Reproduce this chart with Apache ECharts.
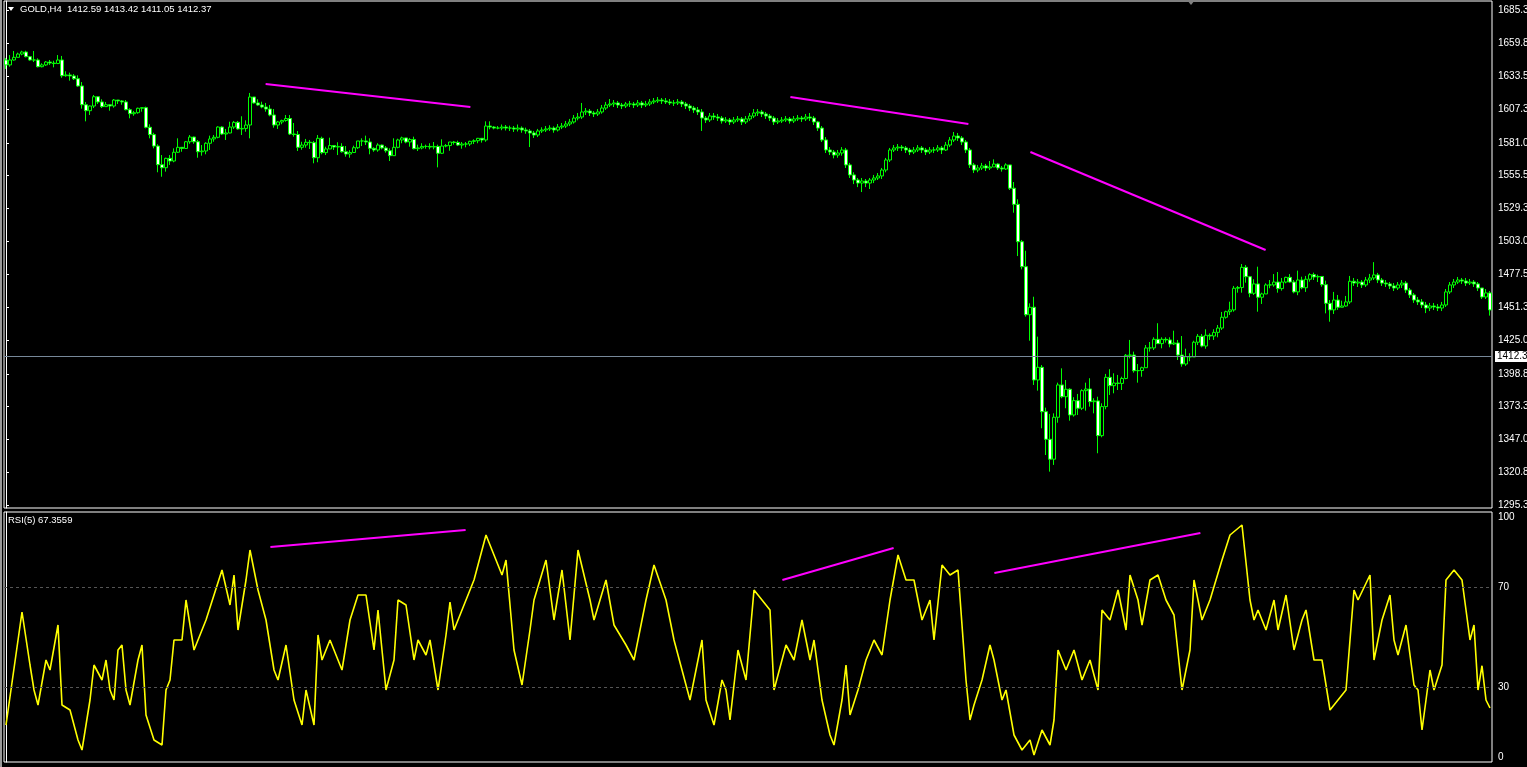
<!DOCTYPE html>
<html><head><meta charset="utf-8">
<script src="https://cdn.jsdelivr.net/npm/echarts@6/dist/echarts.min.js"></script>
<style>html,body{margin:0;padding:0;background:#000;}#c{width:1527px;height:767px;}</style>
</head><body><div id="c"></div>
<script>
const headerText = 'GOLD,H4  1412.59 1413.42 1411.05 1412.37';
const rsiText = 'RSI(5) 67.3559';
const bidPrice = 1412.37;
const bidLabel = '1412.3';
const priceTicks = [1295.3,1320.8,1347.0,1373.3,1398.8,1425.0,1451.3,1477.5,1503.0,1529.3,1555.5,1581.0,1607.3,1633.5,1659.8,1685.3];
const rsiTicks = [0,30,70,100];
const rsiLevels = [30,70];
const firstOpen = 1646.4;
const closes = [
1642.5,1646.4,1648.5,1651.1,1652.7,1649.0,1646.4,1646.4,1641.1,1642.5,
1644.8,1644.0,1643.6,1646.4,1634.0,1634.6,1633.8,1631.6,1625.9,1611.1,
1606.4,1610.1,1617.4,1613.3,1609.6,1611.1,1610.1,1614.8,1614.1,1613.3,
1607.2,1604.0,1604.8,1608.3,1608.8,1593.3,1587.5,1578.5,1563.8,1561.4,
1568.8,1566.7,1573.6,1577.5,1576.6,1581.9,1585.6,1581.9,1574.0,1574.6,
1580.7,1584.1,1585.4,1593.5,1588.0,1588.8,1593.5,1597.2,1592.0,1592.4,
1595.1,1617.2,1612.5,1610.9,1609.3,1607.7,1603.0,1595.1,1597.5,1598.7,
1600.2,1588.0,1587.6,1577.5,1579.3,1581.5,1581.2,1569.3,1584.6,1573.3,
1576.2,1578.9,1577.7,1578.2,1574.0,1572.2,1573.4,1577.2,1582.5,1582.5,
1581.7,1576.7,1575.4,1579.3,1577.0,1574.8,1570.9,1577.5,1583.3,1584.9,
1581.7,1583.7,1576.4,1577.0,1578.2,1578.2,1577.7,1578.2,1572.8,1578.5,
1578.9,1581.7,1581.3,1579.3,1580.1,1580.1,1582.2,1582.7,1584.6,1583.3,
1594.3,1593.5,1592.7,1592.7,1593.5,1592.7,1592.7,1591.9,1592.7,1591.2,
1590.4,1588.8,1587.2,1590.4,1591.2,1592.0,1592.7,1591.2,1593.5,1594.3,
1595.9,1597.5,1600.6,1601.4,1605.4,1606.1,1604.6,1603.8,1605.4,1608.5,
1610.9,1611.7,1612.5,1610.9,1610.1,1611.7,1611.7,1610.9,1612.5,1610.9,
1611.7,1613.3,1614.1,1614.8,1614.1,1613.3,1612.5,1612.5,1613.3,1611.7,
1610.1,1608.5,1607.0,1605.4,1600.6,1599.1,1602.2,1601.4,1600.6,1598.3,
1599.1,1597.5,1599.1,1599.9,1597.5,1599.9,1602.2,1604.6,1605.4,1603.8,
1602.2,1600.6,1597.5,1598.3,1599.1,1599.9,1598.3,1599.9,1600.6,1599.9,
1601.4,1600.6,1597.5,1592.7,1583.3,1575.4,1573.8,1571.4,1573.0,1575.4,
1563.6,1555.7,1551.7,1549.3,1550.9,1549.3,1551.7,1553.3,1554.9,1559.6,
1567.5,1575.4,1577.0,1577.7,1577.0,1575.4,1573.8,1575.4,1577.0,1575.4,
1573.8,1575.4,1575.4,1577.0,1575.4,1579.3,1583.3,1586.4,1584.9,1581.7,
1575.4,1563.6,1559.6,1561.2,1562.8,1561.2,1562.0,1564.3,1561.2,1560.4,
1563.6,1545.2,1532.5,1503.0,1483.3,1445.4,1451.3,1393.9,1403.9,1368.9,
1347.1,1331.4,1364.5,1390.0,1380.7,1386.6,1366.3,1377.6,1371.6,1385.5,
1386.8,1376.8,1377.4,1350.0,1372.9,1396.0,1389.4,1391.5,1391.2,1395.1,
1413.4,1413.6,1401.2,1401.4,1403.6,1419.2,1419.2,1426.0,1422.6,1426.0,
1425.5,1422.3,1423.1,1413.6,1406.5,1412.3,1412.1,1423.7,1428.4,1420.7,
1429.2,1428.6,1431.5,1434.9,1443.4,1447.8,1449.2,1466.3,1466.9,1482.8,
1475.4,1462.3,1469.7,1459.2,1461.8,1468.9,1468.9,1471.2,1466.0,1471.2,
1474.9,1471.2,1463.4,1472.8,1466.7,1473.4,1477.0,1475.2,1475.6,1469.1,
1454.4,1449.2,1457.0,1451.3,1452.3,1455.5,1471.8,1470.4,1471.2,1468.9,
1472.8,1474.4,1476.8,1472.8,1470.4,1469.7,1468.1,1466.5,1468.9,1470.4,
1464.9,1461.0,1457.0,1455.5,1453.1,1450.7,1452.3,1451.5,1450.7,1453.1,
1463.4,1468.9,1471.2,1472.8,1472.0,1470.4,1471.2,1469.7,1466.5,1459.4,
1462.6,1449.2
];
const highsA = [
1648.0,1650.3,1653.5,1652.2,1653.7,1653.7,1649.6,1653.5,1647.7,1643.8,
1645.6,1646.4,1645.8,1650.3,1649.6,1637.5,1636.4,1635.3,1634.3,1629.0,
1613.3,1610.5,1618.8,1617.0,1615.4,1613.3,1611.7,1615.6,1614.8,1614.8,
1614.8,1608.3,1606.2,1608.8,1609.1,1609.6,1595.7,1589.0,1579.9,1571.4,
1569.3,1571.4,1576.7,1584.6,1577.7,1582.5,1587.2,1585.9,1583.3,1579.3,
1581.5,1586.7,1587.2,1594.1,1594.1,1592.0,1597.7,1598.3,1598.3,1602.0,
1598.8,1620.4,1617.2,1615.4,1613.5,1612.5,1610.9,1607.7,1598.3,1599.3,
1603.0,1603.0,1596.7,1590.4,1581.9,1584.1,1583.3,1582.5,1587.2,1585.9,
1578.0,1585.1,1579.3,1581.5,1580.7,1578.5,1575.2,1578.8,1582.5,1584.6,
1586.7,1584.6,1577.5,1580.7,1579.6,1578.5,1576.7,1584.6,1584.3,1585.9,
1584.9,1584.9,1585.9,1579.6,1580.7,1579.6,1580.7,1581.7,1579.6,1583.8,
1580.1,1581.7,1582.5,1582.7,1581.7,1581.7,1582.7,1583.8,1584.9,1584.3,
1598.0,1598.0,1594.3,1594.3];
const highsC = [
1595.5,1595.1,1594.6,1594.3,1595.5,1594.0,1593.0,1591.9,1590.4,1592.0,
1593.3,1594.3,1594.9,1594.0,1595.9,1596.7,1598.3,1599.9,1603.0,1604.6,
1612.5,1608.5,1607.7,1606.1,1607.7,1610.9,1613.3,1615.6,1614.8,1614.1,
1612.5,1613.3,1614.1,1613.3,1614.8,1614.1,1614.1,1615.6,1616.4,1617.2,
1616.4,1616.4,1615.6,1614.8,1615.6,1614.8,1613.3,1611.7,1610.1,1609.3,
1607.7,1602.2,1604.6,1604.6,1603.8,1602.2,1601.4,1600.6,1601.4,1602.2,
1601.4,1602.2,1604.6,1607.7,1607.7,1607.0,1605.4,1603.8,1602.2,1600.6,
1601.4,1602.2,1601.4,1602.2,1603.0,1602.2,1603.8,1604.6,1602.2,1598.3,
1594.3,1585.6,1577.7,1575.4,1575.4,1577.7,1577.0,1565.2,1557.8,1553.3,
1553.3,1552.5,1553.3,1555.7,1557.2,1561.2,1569.1,1577.0,1579.3,1580.1,
1579.3,1578.5,1577.0,1577.7,1579.3,1578.5,1577.0,1577.7,1577.7,1579.3,
1578.5,1581.7,1585.6,1589.6,1588.8,1586.4,1583.3,1577.0,1565.2,1563.6,
1565.2,1564.4,1566.7];
const highsB = [
1568.0,1564.9,1562.8,1564.9,1563.6,1550.1,1536.5,1504.4,1495.9,1454.4,
1459.6,1428.1,1405.7,1372.1,1367.1,1367.6,1391.8,1403.1,1393.9,1387.4,
1380.3,1382.9,1386.6,1391.8,1395.3,1379.5,1380.7,1375.5,1398.7,1402.4,
1399.2,1397.9,1396.5,1414.4,1425.5,1416.3,1406.5,1404.4,1421.5,1423.9,
1427.6,1438.7,1427.6,1427.6,1427.6,1432.8,1425.5,1428.6,1418.6,1415.0,
1424.9,1430.2,1430.2,1433.9,1430.7,1433.9,1437.3,1447.6,1448.6,1455.7,
1468.1,1468.1,1485.4,1484.6,1476.0,1473.4,1483.3,1462.8,1470.2,1472.8,
1477.5,1479.1,1474.4,1475.4,1477.5,1472.8,1480.2,1475.4,1476.0,1478.1,
1478.6,1477.0,1475.4,1472.3,1457.0,1463.4,1461.0,1456.5,1460.2,1476.0];
const highsD = [
1474.4,1473.6,1472.8,1475.2,1477.6,1486.9,1478.4,1474.4,1472.8,1471.2,
1470.4,1471.2,1472.8,1472.0,1466.5,1462.6,1459.4,1457.8,1455.5,1454.7,
1454.7,1453.9,1455.5,1465.7,1471.2,1473.6,1475.2,1474.4,1474.4,1473.6,
1472.8,1471.2,1466.5,1465.7,1464.1];
const lowsA = [
1639.3,1641.1,1645.9,1648.5,1650.1,1648.5,1645.9,1644.8,1640.6,1640.6,
1641.7,1642.5,1640.6,1643.2,1632.4,1633.2,1630.1,1630.6,1625.3,1608.0,
1598.0,1603.0,1608.5,1611.7,1608.5,1609.6,1606.4,1608.8,1611.7,1611.1,
1606.7,1600.4,1602.4,1604.0,1605.6,1592.5,1584.6,1576.7,1557.8,1554.3,
1558.3,1563.6,1565.7,1573.0,1574.0,1576.2,1580.3,1580.3,1569.3,1570.9,
1572.0,1575.4,1581.9,1584.6,1587.2,1583.3,1588.6,1592.0,1591.4,1587.2,
1589.8,1584.6,1611.9,1610.3,1608.3,1605.6,1602.0,1593.0,1592.0,1595.7,
1597.7,1587.2,1585.9,1574.6,1575.6,1577.2,1576.2,1564.9,1565.7,1572.0,
1571.4,1577.7,1575.4,1571.4,1573.3,1570.1,1569.3,1573.6,1576.2,1578.5,
1579.3,1572.0,1574.0,1574.0,1575.9,1573.3,1566.7,1570.7,1576.7,1580.7,
1580.7,1578.0,1575.9,1574.6,1575.9,1576.4,1575.9,1575.9,1561.7,1572.2,
1577.5,1574.8,1579.6,1578.5,1576.4,1577.5,1578.5,1580.1,1580.7,1581.2,
1581.9,1591.7,1591.7,1591.7];
const lowsC = [
1591.0,1590.8,1590.4,1589.6,1590.0,1589.0,1588.2,1577.7,1584.9,1585.6,
1588.8,1589.6,1590.4,1589.0,1590.0,1591.9,1592.7,1594.3,1596.2,1598.8,
1599.9,1603.0,1602.2,1601.4,1602.2,1604.0,1607.0,1609.3,1609.3,1608.5,
1607.7,1608.5,1609.3,1608.5,1609.3,1608.5,1609.3,1610.1,1611.7,1612.5,
1611.7,1611.7,1610.9,1610.1,1610.9,1609.3,1607.7,1606.1,1604.6,1603.0,
1590.4,1596.7,1597.5,1599.1,1598.3,1596.2,1596.7,1595.1,1595.9,1597.5,
1595.1,1595.9,1598.3,1600.6,1602.2,1601.4,1599.9,1598.3,1595.1,1595.9,
1596.7,1597.5,1596.2,1596.7,1598.3,1597.5,1598.3,1598.3,1595.1,1590.4,
1581.7,1573.0,1571.4,1568.8,1569.3,1570.9,1561.2,1553.3,1548.5,1546.1,
1542.2,1546.1,1544.6,1549.3,1551.7,1552.5,1557.8,1565.9,1573.8,1574.6,
1574.6,1573.0,1571.4,1572.2,1573.8,1573.0,1571.4,1572.2,1573.0,1573.8,
1572.2,1574.6,1577.7,1581.7,1582.5,1579.3,1573.0,1561.2,1557.2,1557.8,
1559.6,1558.8,1559.6];
const lowsB = [
1562.8,1559.6,1558.3,1559.6,1543.8,1525.9,1491.7,1481.2,1443.9,1424.9,
1390.0,1385.5,1355.8,1334.7,1321.6,1326.9,1360.2,1379.5,1371.6,1361.8,
1365.0,1366.3,1370.2,1369.7,1372.9,1367.6,1336.1,1348.7,1370.8,1382.1,
1383.4,1386.0,1386.0,1394.5,1411.0,1399.7,1391.8,1396.5,1403.9,1416.3,
1417.6,1422.3,1418.9,1423.4,1419.7,1421.5,1409.7,1404.4,1405.0,1408.7,
1412.3,1421.5,1419.7,1418.6,1425.5,1425.5,1427.6,1433.4,1442.3,1445.2,
1447.8,1462.8,1462.8,1470.7,1459.2,1461.0,1447.8,1453.9,1462.3,1466.3,
1467.5,1462.8,1464.4,1470.2,1470.7,1462.3,1460.8,1465.5,1463.4,1471.5,
1472.8,1471.2,1467.5,1446.5,1439.9,1446.0,1449.2,1451.3,1451.7,1453.9];
const lowsD = [
1468.1,1467.3,1466.5,1467.3,1470.4,1472.8,1470.4,1468.1,1467.3,1465.7,
1464.1,1464.9,1466.5,1462.6,1458.6,1454.7,1453.1,1450.7,1446.7,1448.3,
1449.1,1448.3,1448.3,1451.5,1461.8,1466.5,1469.7,1469.7,1468.1,1468.9,
1467.3,1464.1,1457.8,1457.8,1444.7];
const highs = highsA.concat(highsC, highsB, highsD);
const lows = lowsA.concat(lowsC, lowsB, lowsD);

const rsiPts = [[0,14.8],[4,60],[6,38.8],[7,28.8],[8,22.8],[10,40.8],[11,36.8],[13,54.8],[14,22.8],[16,20.8],[18,8.8],[19,4.8],[21,24.8],[22,38.8],[24,32.8],[25,40.8],[26,28.8],[27,24.8],[28,44.8],[29,46.8],[30,28.8],[31,22.8],[33,40.8],[34,46.8],[35,18.8],[37,8.8],[39,6.8],[40,28.8],[41,32.8],[42,48.8],[44,48.8],[45,64.8],[47,44.8],[50,56.8],[52,66.8],[54,76.8],[56,62.8],[57,74.8],[58,52.8],[60,72.8],[61,84.8],[63,68.8],[65,56.8],[67,36.8],[68,32.8],[70,46.8],[72,24.8],[74,14.8],[75,28.8],[77,14.8],[78,50.8],[79,40.8],[81,48.8],[84,36.8],[86,56.8],[88,66.8],[90,66.8],[92,44.8],[93,60.8],[95,28.8],[97,40.8],[98,64.8],[100,62.8],[102,40.8],[103,48.8],[105,42.8],[106,48.8],[108,28.8],[110,50.8],[111,64],[112,52.8],[114,60.8],[117,72.8],[120,90.8],[122,82.8],[124,74.8],[125,80.8],[127,44.8],[129,30.8],[131,52.8],[132,64.8],[135,80.8],[137,56.8],[139,76.8],[141,48.8],[143,84.8],[146,64.8],[147,56.8],[150,72.8],[152,54.8],[155,46.8],[157,40.8],[160,64.8],[162,78.8],[165,64.8],[167,48.8],[169,36.8],[171,24.8],[174,48.8],[175,24.8],[177,14.8],[179,32.8],[180,28.8],[181,16.8],[183,44.8],[185,32.8],[187,68.8],[189,64.8],[191,60.8],[192,28.8],[195,46.8],[197,40.8],[199,56.8],[200,48.8],[201,40.8],[202,48.8],[204,24.8],[206,10.8],[207,6.8],[209,24.8],[210,38.8],[211,18.8],[213,28.8],[215,40.8],[217,48.8],[219,42.8],[221,64.8],[223,82.8],[225,72.8],[227,72.8],[229,56.8],[231,64.8],[232,48.8],[234,78.8],[236,74.8],[238,76.8],[240,32.8],[241,16.8],[242,22.8],[244,32.8],[246,46.8],[247,40.8],[249,24.8],[250,28.8],[252,10.8],[254,4.8],[256,8.8],[257,2.8],[259,12.8],[261,6.8],[262,16.8],[263,44.8],[265,36.8],[267,44.8],[269,32.8],[271,40.8],[273,28.8],[274,60.8],[276,56.8],[278,68.8],[280,52.8],[281,74.8],[283,64.8],[284,54.8],[286,72.8],[288,74.8],[290,64.8],[292,58.8],[294,28.8],[296,44.8],[297,72.8],[299,56.8],[301,64.8],[304,80.8],[306,90.8],[309,94.8],[311,64.8],[312,56.8],[313,60.8],[315,52.8],[317,64.8],[318,52.8],[320,66.8],[322,44.8],[324,56.8],[325,60.8],[327,40.8],[329,40.8],[331,20.8],[333,24.8],[335,28.8],[337,68.8],[338,64.8],[341,74.8],[342,40.8],[344,56.8],[346,66.8],[347,48.8],[348,42.8],[350,54.8],[352,30.8],[353,28.8],[354,12.8],[356,36.8],[357,28.8],[359,38.8],[360,72.8],[362,76.8],[364,72.8],[366,48.8],[367,54.8],[368,28.8],[369,38.5],[370,24.8],[371,21.6]];

// hand-drawn trend lines: [candle index, value]
const priceTrendlines = [
  [[64.9,1627.4],[116.1,1609.3]],
  [[196.1,1617.2],[240.6,1595.9]],
  [[256.1,1573.8],[314.9,1496.5]]
];
const rsiTrendlines = [
  [[66.1,86.0],[114.9,92.8]],
  [[194.1,72.8],[221.9,85.6]],
  [[247.1,75.6],[298.6,91.6]]
];

const N = closes.length;
const cats = closes.map((_, i) => String(i));
const candles = closes.map((c, i) => {
  const o = i === 0 ? firstOpen : closes[i - 1];
  return [o, c, Math.min(lows[i], o, c), Math.max(highs[i], o, c)];
});

const FF = 'Liberation Sans, Arial, sans-serif';
const chart = echarts.init(document.getElementById('c'), null, {renderer: 'canvas'});
const trendSeries = [];
priceTrendlines.forEach(l => trendSeries.push({type:'line', xAxisIndex:2, yAxisIndex:0, data:l, symbol:'none', silent:true, lineStyle:{color:'#ff00ff', width:2}, z:5}));
rsiTrendlines.forEach(l => trendSeries.push({type:'line', xAxisIndex:3, yAxisIndex:1, data:l, symbol:'none', silent:true, lineStyle:{color:'#ff00ff', width:2}, z:5}));

chart.setOption({
  backgroundColor: '#000',
  animation: false,
  grid: [
    {left:4, top:1, width:1488, height:507, show:true, borderColor:'#ffffff', borderWidth:1, outerBoundsMode:'none'},
    {left:4, top:512, width:1488, height:250, show:true, borderColor:'#ffffff', borderWidth:1, outerBoundsMode:'none'}
  ],
  xAxis: [
    {type:'category', gridIndex:0, data:cats, show:false},
    {type:'category', gridIndex:1, data:cats, axisLine:{show:false}, axisTick:{show:false}, axisLabel:{show:false}},
    {type:'value', gridIndex:0, min:-0.5, max:N-0.5, show:false},
    {type:'value', gridIndex:1, min:-0.5, max:N-0.5, show:false}
  ],
  yAxis: [
    {type:'value', gridIndex:0, position:'right', min:1292.9, max:1692.95,
     axisLine:{show:true, lineStyle:{color:'#fff', width:1}},
     axisTick:{show:true, length:3, customValues:priceTicks, lineStyle:{color:'#fff'}},
     axisLabel:{customValues:priceTicks, formatter:v=>v.toFixed(1), color:'#fff', fontSize:10, margin:6, fontFamily:FF},
     splitLine:{show:false}},
    {type:'value', gridIndex:1, position:'right', min:0, max:100,
     axisLine:{show:true, lineStyle:{color:'#fff', width:1}},
     axisTick:{show:false},
     axisLabel:{customValues:rsiTicks, color:'#fff', fontSize:10, margin:6, fontFamily:FF,
       formatter:v=> v===100 ? '{t|100}' : (v===0 ? '{b|0}' : String(v)),
       rich:{t:{color:'#fff', fontSize:10, fontFamily:FF, padding:[11,0,0,0]}, b:{color:'#fff', fontSize:10, fontFamily:FF, padding:[0,0,10,0]}}},
     splitLine:{show:false}}
  ],
  series: [
    {type:'candlestick', xAxisIndex:0, yAxisIndex:0, data:candles, barWidth:3,
     itemStyle:{color:'#000000', color0:'#ffffff', borderColor:'#00ff00', borderColor0:'#00ff00', borderColorDoji:'#00ff00', borderWidth:1},
     markLine:{silent:true, symbol:'none', animation:false,
       lineStyle:{color:'#778899', width:1, type:'solid'},
       label:{show:true, position:'end', formatter:bidLabel, color:'#000', backgroundColor:'#fff', padding:[1,3,0,2], fontSize:10, fontFamily:FF, distance:3},
       data:[{yAxis:bidPrice}]}},
    {type:'line', xAxisIndex:1, yAxisIndex:1, data:rsiPts, symbol:'none', connectNulls:true,
     lineStyle:{color:'#ffff00', width:1.6}, z:4,
     markLine:{silent:true, symbol:'none', animation:false, label:{show:false},
       lineStyle:{color:'#555555', width:1, type:[3,3]},
       data:rsiLevels.map(v=>({yAxis:v}))}}
  ].concat(trendSeries),
  graphic: [
    {type:'rect', shape:{x:0, y:0, width:2, height:767}, style:{fill:'#9a9a9a'}, silent:true},
    {type:'polygon', shape:{points:[[8,7],[14,7],[11,11]]}, style:{fill:'#ffffff'}, silent:true},
    {type:'polygon', shape:{points:[[1187,0],[1195,0],[1191,5]]}, style:{fill:'#808080'}, silent:true},
    {type:'text', x:20, y:4, style:{text:headerText, fill:'#ffffff', font:'9.5px ' + FF}, silent:true},
    {type:'text', x:8, y:515, style:{text:rsiText, fill:'#ffffff', font:'9.5px ' + FF}, silent:true}
  ]
});
</script></body></html>
